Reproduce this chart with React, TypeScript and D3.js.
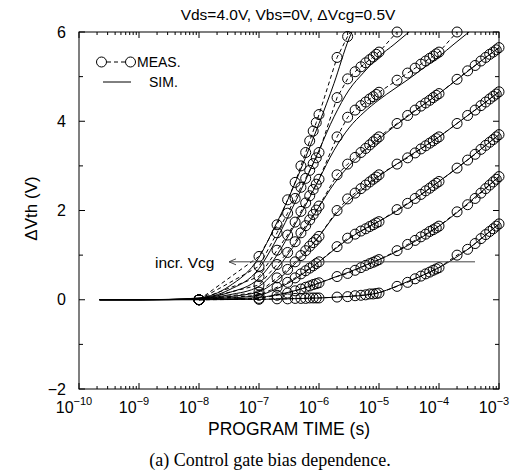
import React from "react";
import * as d3 from "d3";

const TITLE = "Vds=4.0V, Vbs=0V, \u0394Vcg=0.5V";
const X_LABEL = "PROGRAM TIME (s)";
const Y_LABEL = "\u0394Vth (V)";
const CAPTION = "(a) Control gate bias dependence.";
const X_TICK_EXPONENTS = [-10, -9, -8, -7, -6, -5, -4, -3];
const Y_TICKS = [-2, 0, 2, 4, 6];
const Y_MINOR = [-1, 1, 3, 5];

const MEAS_TIMES = [
  1e-8,
  1e-7, 2e-7, 3e-7, 4e-7, 5e-7, 6e-7, 7e-7, 8e-7, 9e-7,
  1e-6, 2e-6, 3e-6, 4e-6, 5e-6, 6e-6, 7e-6, 8e-6, 9e-6,
  1e-5, 2e-5, 3e-5, 4e-5, 5e-5, 6e-5, 7e-5, 8e-5, 9e-5,
  1e-4, 2e-4, 3e-4, 4e-4, 5e-4, 6e-4, 7e-4, 8e-4, 9e-4,
  1e-3,
];

const MEAS_1 = [0, 0.01, 0.02, 0.02, 0.03, 0.03, 0.03, 0.04, 0.04, 0.04, 0.04, 0.06, 0.07, 0.09, 0.1, 0.11, 0.13, 0.13, 0.14, 0.15, 0.3, 0.39, 0.47, 0.53, 0.58, 0.62, 0.66, 0.69, 0.72, 1.0, 1.13, 1.26, 1.37, 1.46, 1.53, 1.59, 1.65, 1.7];
const MEAS_2 = [0, 0.03, 0.1, 0.15, 0.2, 0.24, 0.28, 0.31, 0.34, 0.36, 0.38, 0.52, 0.59, 0.66, 0.72, 0.77, 0.81, 0.84, 0.87, 0.9, 1.1, 1.24, 1.33, 1.41, 1.47, 1.53, 1.57, 1.61, 1.65, 1.97, 2.13, 2.27, 2.39, 2.49, 2.57, 2.64, 2.7, 2.76];
const MEAS_3 = [0, 0.1, 0.28, 0.39, 0.49, 0.58, 0.65, 0.71, 0.76, 0.81, 0.85, 1.19, 1.38, 1.47, 1.54, 1.59, 1.64, 1.68, 1.72, 1.75, 2.02, 2.16, 2.27, 2.36, 2.44, 2.5, 2.56, 2.61, 2.65, 2.95, 3.13, 3.26, 3.37, 3.46, 3.53, 3.59, 3.65, 3.7];
const MEAS_4 = [0, 0.17, 0.49, 0.68, 0.85, 0.99, 1.1, 1.2, 1.28, 1.35, 1.42, 2.0, 2.26, 2.39, 2.49, 2.57, 2.64, 2.7, 2.75, 2.8, 3.04, 3.18, 3.29, 3.38, 3.45, 3.51, 3.56, 3.61, 3.65, 3.95, 4.13, 4.25, 4.35, 4.43, 4.5, 4.56, 4.61, 4.66];
const MEAS_5 = [0, 0.33, 0.79, 1.06, 1.3, 1.5, 1.66, 1.79, 1.91, 2.01, 2.1, 2.8, 3.04, 3.19, 3.3, 3.39, 3.47, 3.54, 3.6, 3.65, 3.95, 4.13, 4.25, 4.34, 4.41, 4.47, 4.53, 4.58, 4.62, 4.94, 5.13, 5.25, 5.35, 5.43, 5.5, 5.55, 5.6, 5.65];
const MEAS_6 = [0, 0.52, 1.11, 1.45, 1.74, 1.98, 2.17, 2.33, 2.47, 2.59, 2.7, 3.65, 4.09, 4.25, 4.35, 4.43, 4.5, 4.55, 4.6, 4.65, 4.92, 5.08, 5.19, 5.28, 5.35, 5.41, 5.46, 5.51, 5.55, 6.0, 6.2, null, null, null, null, null, null, null];
const MEAS_7 = [0, 0.75, 1.5, 1.94, 2.27, 2.52, 2.72, 2.9, 3.05, 3.18, 3.3, 4.53, 4.95, 5.11, 5.22, 5.31, 5.38, 5.44, 5.5, 5.55, 6.0, 6.2, null, null, null, null, null, null, null, null, null, null, null, null, null, null, null, null];
const MEAS_8 = [0, 0.97, 1.68, 2.24, 2.63, 3.0, 3.3, 3.56, 3.78, 3.97, 4.15, 5.43, 5.9, 6.15, null, null, null, null, null, null, null, null, null, null, null, null, null, null, null, null, null, null, null, null, null, null, null, null];

const SIM_TIMES = [2.2e-10, 1e-9, 3.16e-9, 1e-8, 3.16e-8, 1e-7, 1.78e-7, 3.16e-7, 5.62e-7, 1e-6, 1.78e-6, 3.16e-6, 5.62e-6, 1e-5, 1.78e-5, 3.16e-5, 5.62e-5, 1e-4, 1.78e-4, 3.16e-4, 5.62e-4, 1e-3];
const SIM_1 = [0, 0, 0, 0, 0.005, 0.01, 0.015, 0.02, 0.03, 0.04, 0.055, 0.075, 0.1, 0.16, 0.28, 0.42, 0.56, 0.72, 0.92, 1.15, 1.42, 1.7];
const SIM_2 = [0, 0, 0.002, 0.01, 0.02, 0.05, 0.1, 0.17, 0.26, 0.37, 0.5, 0.62, 0.76, 0.9, 1.05, 1.23, 1.43, 1.65, 1.9, 2.18, 2.47, 2.76];
const SIM_3 = [0, 0, 0.003, 0.015, 0.04, 0.1, 0.22, 0.38, 0.6, 0.85, 1.12, 1.37, 1.58, 1.76, 1.95, 2.17, 2.4, 2.65, 2.9, 3.16, 3.43, 3.7];
const SIM_4 = [0, 0, 0.004, 0.02, 0.07, 0.18, 0.38, 0.67, 1.02, 1.42, 1.87, 2.22, 2.5, 2.77, 3.0, 3.22, 3.43, 3.65, 3.9, 4.15, 4.4, 4.66];
const SIM_5 = [0, 0, 0.005, 0.025, 0.11, 0.3, 0.62, 1.05, 1.55, 2.08, 2.6, 3.0, 3.33, 3.6, 3.88, 4.13, 4.38, 4.62, 4.88, 5.14, 5.4, 5.65];
const SIM_6 = [0, 0, 0.006, 0.03, 0.16, 0.48, 0.9, 1.45, 2.05, 2.7, 3.35, 3.85, 4.2, 4.48, 4.72, 4.95, 5.2, 5.45, 5.73, 6.0, 6.28, 6.55];
const SIM_7 = [0, 0, 0.007, 0.035, 0.22, 0.7, 1.25, 1.9, 2.6, 3.35, 4.1, 4.7, 5.1, 5.45, 5.72, 6.0, 6.28, 6.55, 6.8, 7.1, 7.4, 7.7];
const SIM_8 = [0, 0, 0.008, 0.04, 0.3, 0.95, 1.6, 2.3, 3.1, 3.95, 4.85, 5.85, 6.5, 7.0, 7.3, 7.6, 7.9, 8.2, 8.5, 8.8, 9.1, 9.4];

const MEAS_SERIES = [MEAS_1, MEAS_2, MEAS_3, MEAS_4, MEAS_5, MEAS_6, MEAS_7, MEAS_8];
const SIM_SERIES = [SIM_1, SIM_2, SIM_3, SIM_4, SIM_5, SIM_6, SIM_7, SIM_8];

const W = 513;
const H = 476;
const L = 79, R = 499, T = 32, B = 389;
const SANS = "'Liberation Sans', Arial, Helvetica, sans-serif";
const SERIF = "'Liberation Serif', 'Times New Roman', serif";

export default function App() {
  const x = d3.scaleLog().domain([1e-10, 1e-3]).range([L, R]);
  const y = d3.scaleLinear().domain([-2, 6]).range([B, T]);

  const simLine = d3
    .line<[number, number]>()
    .x((d) => x(d[0]))
    .y((d) => y(d[1]))
    .curve(d3.curveMonotoneX);

  const measLine = d3
    .line<[number, number | null]>()
    .defined((d) => d[1] !== null)
    .x((d) => x(d[0]))
    .y((d) => y(d[1] as number));

  const minorX: number[] = [];
  for (let e = -10; e < -3; e++) {
    for (let k = 2; k <= 9; k++) minorX.push(k * Math.pow(10, e));
  }

  return (
    <svg
      width={W}
      height={H}
      style={{ position: "absolute", left: 0, top: 0, background: "#fff" }}
      fontFamily={SANS}
    >
      <defs>
        <clipPath id="plotclip">
          <rect x={L} y={T} width={R - L} height={B - T} />
        </clipPath>
      </defs>

      <text x={288} y={20} textAnchor="middle" fontSize={15.5}>
        {TITLE}
      </text>

      <g clipPath="url(#plotclip)" fill="none" stroke="#000" strokeWidth={1}>
        {SIM_SERIES.map((s, i) => (
          <path key={"s" + i} d={simLine(SIM_TIMES.map((t, j) => [t, s[j]]) as [number, number][]) || ""} />
        ))}
        {MEAS_SERIES.map((s, i) => (
          <path
            key={"m" + i}
            d={measLine(MEAS_TIMES.map((t, j) => [t, s[j]]) as [number, number | null][]) || ""}
            strokeDasharray="4,3"
          />
        ))}
      </g>

      <g fill="none" stroke="#000" strokeWidth={1}>
        {MEAS_SERIES.map((s, i) =>
          MEAS_TIMES.map((t, j) =>
            s[j] !== null && (s[j] as number) <= 6.02 ? (
              <circle key={i + "-" + j} cx={x(t)} cy={y(s[j] as number)} r={5} />
            ) : null
          )
        )}
      </g>

      <rect x={L} y={T} width={R - L} height={B - T} fill="none" stroke="#000" strokeWidth={1} />

      <g stroke="#000" strokeWidth={1}>
        {X_TICK_EXPONENTS.map((e) => {
          const px = x(Math.pow(10, e));
          return (
            <g key={"xt" + e}>
              <line x1={px} x2={px} y1={B} y2={B - 6} />
              <line x1={px} x2={px} y1={T} y2={T + 6} />
            </g>
          );
        })}
        {minorX.map((v, i) => {
          const px = x(v);
          return (
            <g key={"xm" + i}>
              <line x1={px} x2={px} y1={B} y2={B - 3} />
              <line x1={px} x2={px} y1={T} y2={T + 3} />
            </g>
          );
        })}
        {Y_TICKS.map((v) => (
          <g key={"yt" + v}>
            <line x1={L} x2={L + 6} y1={y(v)} y2={y(v)} />
            <line x1={R} x2={R - 6} y1={y(v)} y2={y(v)} />
          </g>
        ))}
        {Y_MINOR.map((v) => (
          <g key={"ym" + v}>
            <line x1={L} x2={L + 4} y1={y(v)} y2={y(v)} />
            <line x1={R} x2={R - 4} y1={y(v)} y2={y(v)} />
          </g>
        ))}
      </g>

      {X_TICK_EXPONENTS.map((e) => (
        <text key={"xl" + e} x={x(Math.pow(10, e)) - 5} y={413} textAnchor="middle" fontSize={16}>
          10
          <tspan dy={-8.5} fontSize={11}>
            {"\u2212" + Math.abs(e)}
          </tspan>
        </text>
      ))}

      {Y_TICKS.map((v) => (
        <text key={"yl" + v} x={66} y={y(v) + 5.5} textAnchor="end" fontSize={16}>
          {v < 0 ? "\u2212" + Math.abs(v) : String(v)}
        </text>
      ))}

      <text x={289} y={435} textAnchor="middle" fontSize={17.5}>
        {X_LABEL}
      </text>
      <text transform={`translate(37,${(T + B) / 2 - 2}) rotate(-90)`} textAnchor="middle" fontSize={17}>
        {Y_LABEL}
      </text>

      <g fill="none" stroke="#000" strokeWidth={1}>
        <circle cx={101.5} cy={62} r={5} />
        <line x1={107} x2={125} y1={62} y2={62} strokeDasharray="4,3" />
        <circle cx={130.5} cy={62} r={5} />
        <line x1={103} x2={131} y1={82} y2={82} />
      </g>
      <text x={137} y={67} fontSize={14}>
        MEAS.
      </text>
      <text x={149} y={87} fontSize={14}>
        SIM.
      </text>

      <g stroke="#444" strokeWidth={1} fill="none">
        <line x1={475} x2={229} y1={y(0.85)} y2={y(0.85)} />
        <path d={`M${236},${y(0.85) - 3} L${229},${y(0.85)} L${236},${y(0.85) + 3}`} />
      </g>
      <text x={155} y={y(0.85) + 6} fontSize={15.5}>
        incr. Vcg
      </text>

      <text x={270} y={466} textAnchor="middle" fontSize={18} fontFamily={SERIF}>
        {CAPTION}
      </text>
    </svg>
  );
}
